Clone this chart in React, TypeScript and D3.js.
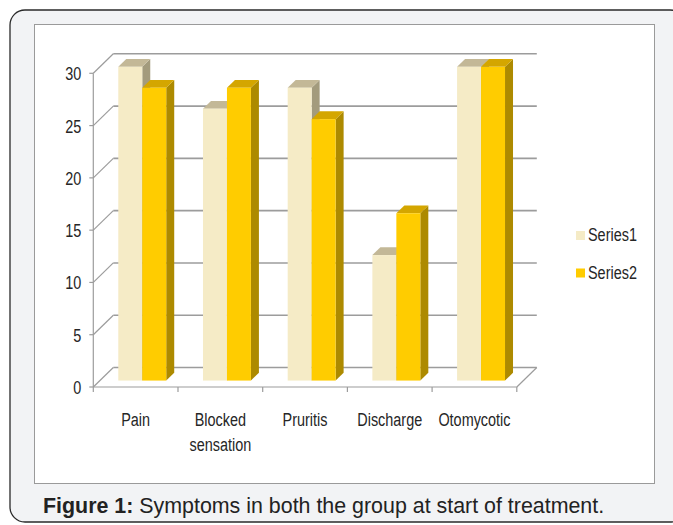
import React, { useRef, useEffect } from 'react';
import * as d3 from 'd3';

const categories = ['Pain', 'Blocked sensation', 'Pruritis', 'Discharge', 'Otomycotic'];
const seriesNames = ['Series1', 'Series2'];
const series1 = [30, 26, 28, 12, 30];
const series2 = [28, 28, 25, 16, 30];
const yTicks = [0, 5, 10, 15, 20, 25, 30];

// front, top, side shades per series
const palette = [
  { front: '#f5ebc6', top: '#c3b897', side: '#a39b7d' },
  { front: '#ffcc00', top: '#d4a600', side: '#ad8a00' },
];

const W = 673;
const H = 525;

const Chart: React.FC = () => {
  const svgRef = useRef<SVGSVGElement>(null);

  useEffect(() => {
    if (!svgRef.current) return;
    const svg = d3.select(svgRef.current);
    svg.selectAll('*').remove();

    // outer frame and inner chart area
    svg.append('rect')
      .attr('x', 10).attr('y', 10).attr('width', 675).attr('height', 512)
      .attr('rx', 15).attr('fill', '#f2f3f5').attr('stroke', '#2a2a2a').attr('stroke-width', 1.3);
    svg.append('rect')
      .attr('x', 34.5).attr('y', 24.5).attr('width', 620).attr('height', 459)
      .attr('fill', '#fff').attr('stroke', '#9a9a9a').attr('stroke-width', 1);

    const x = d3.scaleBand<string>().domain(categories).range([93.3, 516.8]);
    const y = d3.scaleLinear().domain([0, 30]).range([387, 73.3]);
    const dx = 20, dy = -19.5; // wall depth
    const x0 = x.range()[0], x1 = x.range()[1];
    const grey = '#9c9c9c';

    const g = svg.append('g');

    // back wall gridlines + left wall diagonals
    yTicks.forEach(t => {
      g.append('line')
        .attr('x1', x0 + dx).attr('x2', x1 + dx)
        .attr('y1', y(t) + dy).attr('y2', y(t) + dy)
        .attr('stroke', grey).attr('stroke-width', 1.6);
      g.append('line')
        .attr('x1', x0).attr('x2', x0 + dx)
        .attr('y1', y(t)).attr('y2', y(t) + dy)
        .attr('stroke', grey).attr('stroke-width', 1.2);
      g.append('line')
        .attr('x1', x0 - 4).attr('x2', x0)
        .attr('y1', y(t)).attr('y2', y(t))
        .attr('stroke', grey).attr('stroke-width', 1.2);
    });

    // y axis front edge, floor front edge, floor right diagonal
    g.append('line').attr('x1', x0).attr('x2', x0).attr('y1', y(0)).attr('y2', y(30))
      .attr('stroke', grey).attr('stroke-width', 1.2);
    g.append('line').attr('x1', x0).attr('x2', x1).attr('y1', y(0)).attr('y2', y(0))
      .attr('stroke', grey).attr('stroke-width', 1.2);
    g.append('line').attr('x1', x1).attr('x2', x1 + dx).attr('y1', y(0)).attr('y2', y(0) + dy)
      .attr('stroke', grey).attr('stroke-width', 1.2);

    // category ticks
    const bounds = categories.map(c => x(c)!).concat([x1]);
    bounds.forEach(b => {
      g.append('line').attr('x1', b).attr('x2', b).attr('y1', y(0)).attr('y2', y(0) + 5)
        .attr('stroke', grey).attr('stroke-width', 1.2);
    });

    // bars
    const f0 = 0.33, f1 = 0.73;
    const bw = x.bandwidth() * 0.283;
    const fdx = dx * f0, fdy = dy * f0;
    const ddx = dx * (f1 - f0), ddy = dy * (f1 - f0);
    const sub = d3.scaleBand<number>().domain([0, 1]).range([0, bw * 2]);
    const data = [series1, series2];

    categories.forEach((c, ci) => {
      const gx = x(c)! + x.bandwidth() / 2 - bw + fdx;
      [0, 1].forEach(si => {
        const v = data[si][ci];
        const bx = gx + sub(si)!;
        const yt = y(v) + fdy;
        const yb = y(0) + fdy;
        const col = palette[si];
        g.append('polygon')
          .attr('points', [[bx + bw, yt], [bx + bw + ddx, yt + ddy], [bx + bw + ddx, yb + ddy], [bx + bw, yb]].map(p => p.join(',')).join(' '))
          .attr('fill', col.side);
        g.append('polygon')
          .attr('points', [[bx, yt], [bx + bw, yt], [bx + bw + ddx, yt + ddy], [bx + ddx, yt + ddy]].map(p => p.join(',')).join(' '))
          .attr('fill', col.top);
        g.append('rect')
          .attr('x', bx).attr('y', yt).attr('width', bw).attr('height', yb - yt)
          .attr('fill', col.front);
      });
    });

    const narrow = (sel: d3.Selection<SVGTextElement, unknown, null, undefined>, tx: number, ty: number) =>
      sel.attr('transform', `translate(${tx},${ty}) scale(0.76,1)`);

    // y tick labels
    yTicks.forEach(t => {
      narrow(g.append('text'), x0 - 12, y(t) + 7)
        .attr('text-anchor', 'end')
        .attr('font-family', 'Liberation Sans, Arial, sans-serif')
        .attr('font-size', 19).attr('fill', '#262626')
        .text(String(t));
    });

    // category labels
    categories.forEach(c => {
      const cx = x(c)! + x.bandwidth() / 2;
      const words = c === 'Blocked sensation' ? ['Blocked', 'sensation'] : [c];
      words.forEach((w, i) => {
        narrow(g.append('text'), cx, 426 + i * 25)
          .attr('text-anchor', 'middle')
          .attr('font-family', 'Liberation Sans, Arial, sans-serif')
          .attr('font-size', 19).attr('fill', '#262626')
          .text(w);
      });
    });

    // legend
    seriesNames.forEach((s, i) => {
      const ly = 231 + i * 37.5;
      g.append('rect').attr('x', 576).attr('y', ly).attr('width', 9).attr('height', 9)
        .attr('fill', palette[i].front);
      narrow(g.append('text'), 588, ly + 10)
        .attr('font-family', 'Liberation Sans, Arial, sans-serif')
        .attr('font-size', 19).attr('fill', '#262626')
        .text(s);
    });

    // caption
    const cap = svg.append('text')
      .attr('x', 43).attr('y', 513)
      .attr('font-family', 'Liberation Sans, Arial, sans-serif')
      .attr('font-size', 21.4).attr('fill', '#222');
    cap.append('tspan').attr('font-weight', 'bold').text('Figure 1:');
    cap.append('tspan').text(' Symptoms in both the group at start of treatment.');
  }, []);

  return (
    <svg ref={svgRef} width={W} height={H}
      style={{ position: 'absolute', left: 0, top: 0, background: '#fff' }} />
  );
};

export default function App() {
  return <Chart />;
}
